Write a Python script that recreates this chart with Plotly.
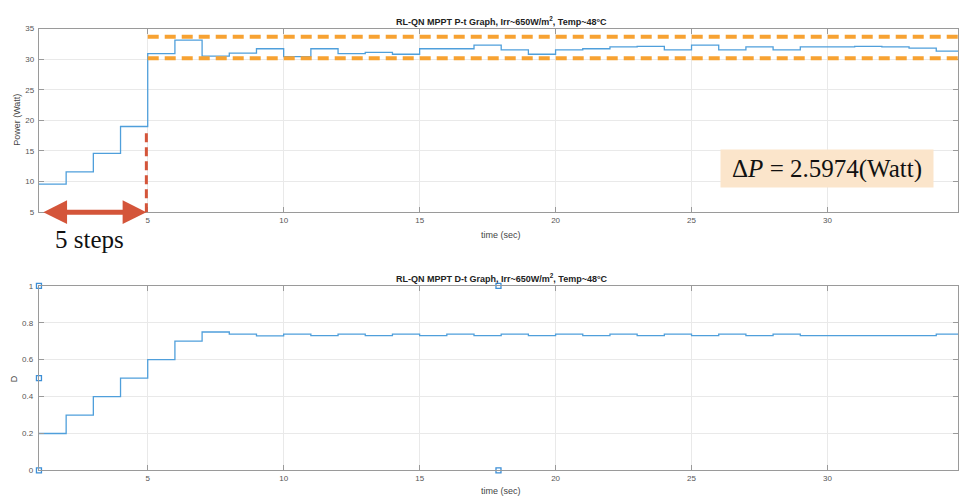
import plotly.graph_objects as go

# ---- data -------------------------------------------------------------
time_s = list(range(1, 36))

power_w = [9.6, 11.6, 14.6, 19.0, 30.9, 33.1, 30.5, 31.0, 31.7, 30.4,
           31.7, 30.9, 31.1, 30.8, 31.7, 31.7, 32.3, 31.5, 30.8, 31.5,
           31.7, 32.0, 32.1, 31.5, 32.3, 31.5, 32.0, 31.5, 32.0, 32.0,
           32.1, 32.0, 31.8, 31.3, 31.3]

duty = [0.20, 0.30, 0.40, 0.50, 0.60, 0.70, 0.750, 0.738, 0.729, 0.738,
        0.730, 0.738, 0.730, 0.738, 0.730, 0.738, 0.730, 0.738, 0.730, 0.738,
        0.730, 0.738, 0.730, 0.738, 0.730, 0.738, 0.730, 0.738, 0.730, 0.730,
        0.730, 0.730, 0.730, 0.738, 0.738]

x_ticks = [5, 10, 15, 20, 25, 30]
p_ticks = [5, 10, 15, 20, 25, 30, 35]
d_ticks = [0, 0.2, 0.4, 0.6, 0.8, 1]
d_tick_text = ["0", "0.2", "0.4", "0.6", "0.8", "1"]

band_upper = 33.65          # ripple band, top
band_lower = 30.15          # ripple band, bottom
band_start = 5
delta_p = 2.5974
settle_step = 5
settle_power = 18.2

# axes selection handles
handle_x = [1, 1, 1, 17.9, 17.9]
handle_y = [1, 0.5, 0, 1, 0]

X_RANGE = [1, 34.8]

# ---- styling ----------------------------------------------------------
LINE_BLUE = "#4f9fdb"
ORANGE = "#f7a232"
RED = "#d4553a"
FRAME = "#9a9a9a"
GRID = "#e9e9e9"
TICK_FONT = dict(family="Liberation Sans, Arial, sans-serif", size=8, color="#555555")
TITLE_FONT = dict(family="Liberation Sans, Arial, sans-serif", size=9, color="#222222")

fig = go.Figure()

fig.add_trace(go.Scatter(x=time_s, y=power_w, mode="lines", line_shape="hv",
                         line=dict(color=LINE_BLUE, width=1.3),
                         xaxis="x", yaxis="y", showlegend=False))

fig.add_trace(go.Scatter(x=time_s, y=duty, mode="lines", line_shape="hv",
                         line=dict(color=LINE_BLUE, width=1.3),
                         xaxis="x2", yaxis="y2", showlegend=False))

fig.add_trace(go.Scatter(x=handle_x, y=handle_y, mode="markers",
                         marker=dict(symbol="square", size=5, color="white",
                                     line=dict(color="#3d8fd6", width=1.3)),
                         cliponaxis=False, xaxis="x2", yaxis="y2", showlegend=False))

axis_common = dict(showline=True, linecolor=FRAME, linewidth=1.3, mirror="ticks",
                   ticks="inside", ticklen=5, tickcolor=FRAME, tickwidth=1.2,
                   showgrid=True, gridcolor=GRID, gridwidth=1, zeroline=False,
                   tickfont=TICK_FONT)

fig.update_layout(
    width=959, height=500,
    margin=dict(l=0, r=0, t=0, b=0),
    paper_bgcolor="white", plot_bgcolor="white",
    xaxis=dict(domain=[39 / 959, 1], range=X_RANGE, tickvals=x_ticks,
               anchor="y", **axis_common),
    yaxis=dict(domain=[1 - 212 / 500, 1 - 25 / 500], range=[5, 35],
               tickvals=p_ticks, anchor="x", ticklabelstandoff=2, **axis_common),
    xaxis2=dict(domain=[39 / 959, 1], range=X_RANGE, tickvals=x_ticks,
                anchor="y2", **axis_common),
    yaxis2=dict(domain=[1 - 475 / 500, 1 - 287 / 500], range=[0, 1],
                tickvals=d_ticks, ticktext=d_tick_text, anchor="x2",
                ticklabelstandoff=3, **axis_common),
)

# ripple band around the settled power
for level in (band_upper, band_lower):
    fig.add_shape(type="line", xref="x", yref="y", x0=band_start, x1=X_RANGE[1],
                  y0=level, y1=level, line=dict(color=ORANGE, width=4, dash="11px,6px"))

# settling marker at step 5
fig.add_shape(type="line", xref="x", yref="y", x0=settle_step - 0.05, x1=settle_step - 0.05,
              y0=5, y1=settle_power, line=dict(color=RED, width=3, dash="9px,5px"))

# double-headed arrow spanning the first five steps
fig.add_annotation(x=settle_step - 0.05, y=5, ax=1.05, ay=5, xref="x", yref="y",
                   axref="x", ayref="y", text=" ", showarrow=True,
                   arrowhead=2, arrowside="end+start", arrowsize=0.95,
                   arrowwidth=5, arrowcolor=RED)

titles = [
    ("<b>RL-QN MPPT P-t Graph, Irr~650W/m<sup>2</sup>, Temp~48°C</b>", 502, 17),
    ("<b>RL-QN MPPT D-t Graph, Irr~650W/m<sup>2</sup>, Temp~48°C</b>", 502, 279),
]
for text, px, py in titles:
    fig.add_annotation(text=text, x=px / 959, y=1 - py / 500,
                       xref="paper", yref="paper", showarrow=False,
                       xanchor="center", yanchor="middle", font=TITLE_FONT)

label_font = dict(family="Liberation Sans, Arial, sans-serif", size=9, color="#444444")
fig.add_annotation(text="time (sec)", x=502 / 959, y=1 - 235 / 500, xref="paper", yref="paper",
                   showarrow=False, font=label_font, yanchor="middle")
fig.add_annotation(text="time (sec)", x=502 / 959, y=1 - 496 / 500, xref="paper", yref="paper",
                   showarrow=False, font=label_font, yanchor="middle")
fig.add_annotation(text="Power (Watt)", x=17 / 959, y=1 - 118 / 500, xref="paper", yref="paper",
                   showarrow=False, font=label_font, textangle=-90,
                   xanchor="center", yanchor="middle")
fig.add_annotation(text="D", x=14 / 959, y=1 - 381 / 500, xref="paper", yref="paper",
                   showarrow=False, font=label_font, textangle=-90,
                   xanchor="center", yanchor="middle")

# step count label
fig.add_annotation(text="5 steps", x=90 / 959, y=1 - 240 / 500, xref="paper", yref="paper",
                   showarrow=False, xanchor="center", yanchor="middle",
                   font=dict(family="Liberation Serif, Times New Roman, serif", size=25,
                             color="#111111"))

# ripple magnitude box
fig.add_annotation(text=f"Δ<i>P</i> = {delta_p:.4f}(Watt)", x=828 / 959, y=1 - 168 / 500,
                   xref="paper", yref="paper", showarrow=False,
                   xanchor="center", yanchor="middle",
                   bgcolor="#fbe5cb", borderpad=5, width=202, height=27,
                   font=dict(family="Liberation Serif, Times New Roman, serif", size=25,
                             color="#111111"))

fig.write_html("out.html")
